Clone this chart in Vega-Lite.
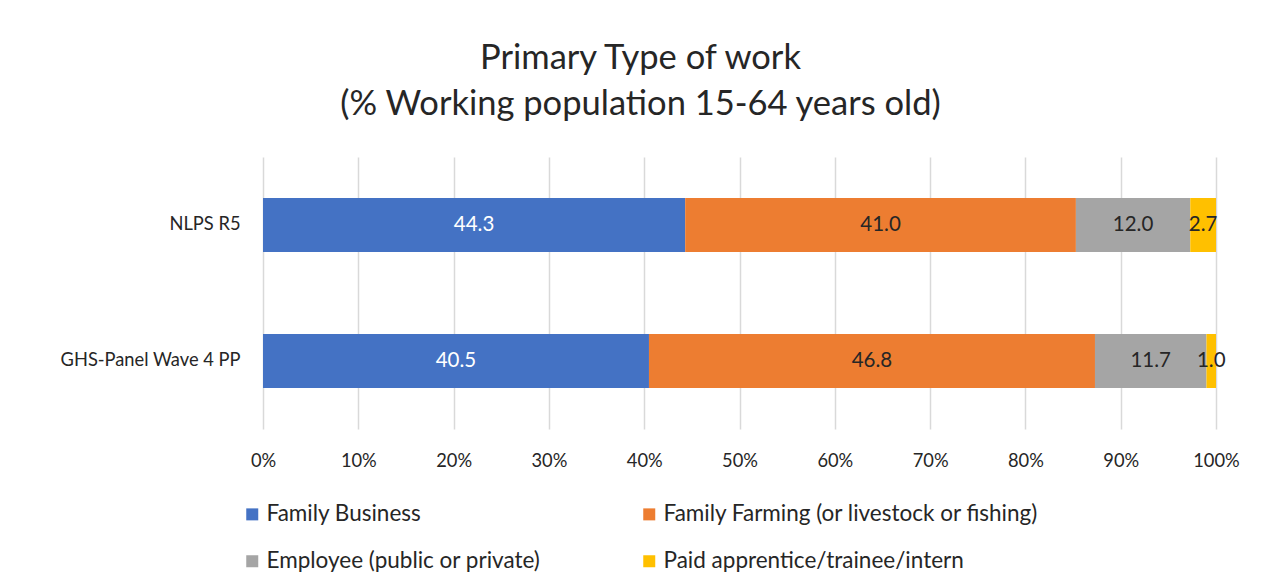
{
  "$schema": "https://vega.github.io/schema/vega-lite/v6.json",
  "width": 953,
  "height": 272,
  "autosize": {"type": "none"},
  "padding": {"left": 263, "top": 157, "right": 57, "bottom": 159},
  "background": "white",
  "title": {
    "text": ["Primary Type of work", "(% Working population 15-64 years old)"],
    "font": "Lato",
    "fontSize": 34.5,
    "fontWeight": "normal",
    "color": "#262626",
    "lineHeight": 46,
    "anchor": "middle",
    "dx": -99,
    "offset": 35
  },
  "data": {
    "values": [
      {"survey": "NLPS R5", "type": "Family Business", "k": 1, "value": 44.3},
      {"survey": "NLPS R5", "type": "Family Farming (or livestock or fishing)", "k": 2, "value": 41.0},
      {"survey": "NLPS R5", "type": "Employee (public or private)", "k": 3, "value": 12.0},
      {"survey": "NLPS R5", "type": "Paid apprentice/trainee/intern", "k": 4, "value": 2.7},
      {"survey": "GHS-Panel Wave 4 PP", "type": "Family Business", "k": 1, "value": 40.5},
      {"survey": "GHS-Panel Wave 4 PP", "type": "Family Farming (or livestock or fishing)", "k": 2, "value": 46.8},
      {"survey": "GHS-Panel Wave 4 PP", "type": "Employee (public or private)", "k": 3, "value": 11.7},
      {"survey": "GHS-Panel Wave 4 PP", "type": "Paid apprentice/trainee/intern", "k": 4, "value": 1.0}
    ]
  },
  "transform": [
    {"stack": "value", "groupby": ["survey"], "sort": [{"field": "k", "order": "ascending"}], "as": ["x0", "x1"]},
    {"calculate": "(datum.x0 + datum.x1) / 2", "as": "xm"}
  ],
  "encoding": {
    "y": {
      "field": "survey",
      "type": "nominal",
      "sort": ["NLPS R5", "GHS-Panel Wave 4 PP"],
      "scale": {"paddingInner": 0.603, "paddingOuter": 0.3015},
      "axis": {
        "title": null,
        "domain": false,
        "ticks": false,
        "grid": false,
        "labelFont": "Lato",
        "labelFontSize": 18.3,
        "labelColor": "#262626",
        "labelPadding": 23,
        "labelLimit": 300
      }
    }
  },
  "layer": [
    {
      "mark": {"type": "bar"},
      "encoding": {
        "x": {
          "field": "x0",
          "type": "quantitative",
          "scale": {"domain": [0, 100], "nice": false},
          "axis": {
            "title": null,
            "values": [0, 10, 20, 30, 40, 50, 60, 70, 80, 90, 100],
            "labelExpr": "datum.value + '%'",
            "labelFlush": false,
            "domain": false,
            "ticks": false,
            "grid": true,
            "gridColor": "#d9d9d9",
            "gridWidth": 1.5,
            "labelFont": "Lato",
            "labelFontSize": 18.3,
            "labelColor": "#262626",
            "labelPadding": 23
          }
        },
        "x2": {"field": "x1"},
        "color": {
          "field": "type",
          "type": "nominal",
          "sort": ["Family Business", "Family Farming (or livestock or fishing)", "Employee (public or private)", "Paid apprentice/trainee/intern"],
          "scale": {
            "domain": ["Family Business", "Family Farming (or livestock or fishing)", "Employee (public or private)", "Paid apprentice/trainee/intern"],
            "range": ["#4472C4", "#ED7D31", "#A5A5A5", "#FFC000"]
          },
          "legend": {
            "title": null,
            "orient": "none",
            "legendX": -22,
            "legendY": 346,
            "direction": "horizontal",
            "columns": 2,
            "columnPadding": 97,
            "rowPadding": 24,
            "symbolType": "square",
            "symbolSize": 144,
            "symbolStrokeWidth": 0,
            "labelFont": "Lato",
            "labelFontSize": 22.5,
            "labelColor": "#262626",
            "labelOffset": 3,
            "labelLimit": 500
          }
        }
      }
    },
    {
      "mark": {"type": "text", "font": "Lato", "fontSize": 20.5, "baseline": "middle", "align": "center"},
      "encoding": {
        "x": {"field": "xm", "type": "quantitative"},
        "text": {"field": "value", "type": "quantitative", "format": ".1f"},
        "color": {
          "condition": {"test": "datum.type === 'Family Business'", "value": "white"},
          "value": "#262626"
        }
      }
    }
  ],
  "config": {"view": {"stroke": null}}
}
